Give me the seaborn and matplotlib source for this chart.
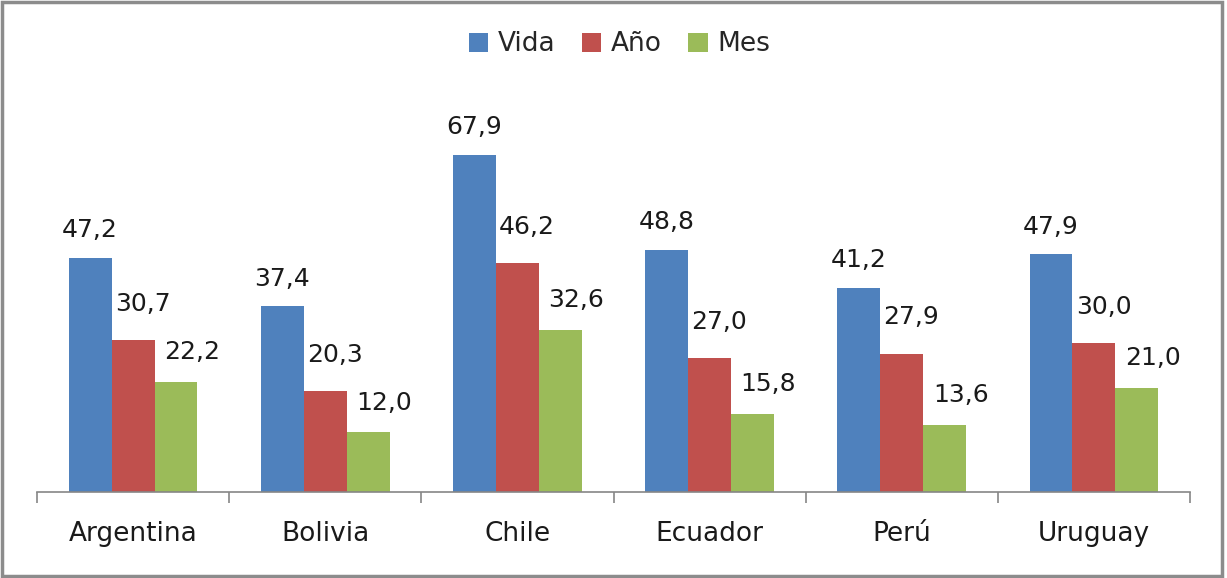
import pandas as pd
import numpy as np
import matplotlib
matplotlib.use("Agg")
import matplotlib.pyplot as plt
import seaborn as sns
from matplotlib.patches import Rectangle

paises = ["Argentina", "Bolivia", "Chile", "Ecuador", "Perú", "Uruguay"]
vida = [47.2, 37.4, 67.9, 48.8, 41.2, 47.9]
anio = [30.7, 20.3, 46.2, 27.0, 27.9, 30.0]
mes = [22.2, 12.0, 32.6, 15.8, 13.6, 21.0]
series = ["Vida", "Año", "Mes"]
colores = ["#4F81BD", "#C0504D", "#9BBB59"]

df = pd.DataFrame({"Pais": paises * 3,
                   "Serie": ["Vida"] * 6 + ["Año"] * 6 + ["Mes"] * 6,
                   "Valor": vida + anio + mes})

sns.set_style("white")
plt.rcParams["font.family"] = ["DejaVu Sans"]

fig = plt.figure(figsize=(12.27, 5.78), dpi=100)
ax = fig.add_axes([37 / 1227, (578 - 492) / 578, (1190 - 37) / 1227, (492 - 95) / 578])

sns.barplot(data=df, x="Pais", y="Valor", hue="Serie", hue_order=series,
            palette=colores, width=0.67, saturation=1, ax=ax, errorbar=None,
            linewidth=0)

# etiquetas de datos (desplazadas como en el original)
desplaz = [(0, 20), (7, 26), (11.5, 21.5)]
for cont, (dx, dy) in zip(ax.containers, desplaz):
    for barra, v in zip(cont, cont.datavalues):
        ax.annotate(f"{v:.1f}".replace(".", ","),
                    (barra.get_x() + barra.get_width() / 2, barra.get_height()),
                    xytext=(dx, dy), textcoords="offset points",
                    ha="center", va="center", fontsize=18, color="#1a1a1a")

ax.set_ylim(0, 80)
ax.set_xlim(-0.5, 5.5)
ax.set_xlabel("")
ax.set_ylabel("")
ax.set_yticks([])
for s in ["top", "right", "left"]:
    ax.spines[s].set_visible(False)
ax.spines["bottom"].set_color("#868686")
ax.spines["bottom"].set_linewidth(1.2)
ax.set_xticks(np.arange(-0.5, 6, 1), minor=True)
ax.tick_params(axis="x", which="minor", bottom=True, length=8, color="#868686", width=1.2)
ax.tick_params(axis="x", which="major", length=0, labelsize=19, pad=21, colors="#1a1a1a")

ax.legend(loc="upper center", bbox_to_anchor=(0.505, 1.22), ncol=3, frameon=False,
          fontsize=19, handlelength=0.75, handleheight=0.75, handletextpad=0.35,
          columnspacing=1.0)

fig.patches.append(Rectangle((0.002, 0.004), 0.994, 0.992, transform=fig.transFigure,
                             fill=False, edgecolor="#8c8c8c", linewidth=2.5))

fig.savefig("out.png", dpi=100)
